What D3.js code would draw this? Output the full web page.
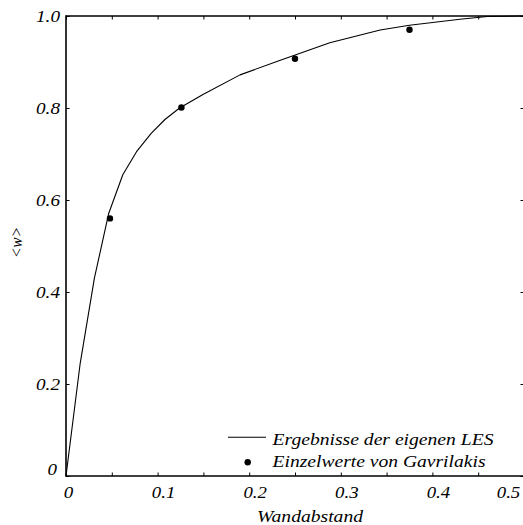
<!DOCTYPE html>
<html>
<head>
<meta charset="utf-8">
<script src="https://cdn.jsdelivr.net/npm/d3@7"></script>
<style>
  html, body { margin: 0; padding: 0; background: #fff; overflow: hidden; }
  svg { display: block; }
</style>
</head>
<body>
<svg id="chart" width="523" height="525"></svg>
<script>
// ── Datos ──
// Kurve: Ergebnisse der eigenen LES
const lesX = [0, 0.0155, 0.031, 0.0465, 0.062, 0.077, 0.093, 0.108, 0.124, 0.15, 0.19, 0.234, 0.288, 0.343, 0.375, 0.43, 0.46, 0.5];
const lesW = [0, 0.245, 0.43, 0.57, 0.655, 0.705, 0.745, 0.775, 0.80, 0.83, 0.872, 0.904, 0.942, 0.9696, 0.980, 0.993, 0.999, 1.0];

// Punkte: Einzelwerte von Gavrilakis
const gavX = [0.048, 0.126, 0.25, 0.375];
const gavW = [0.560, 0.801, 0.907, 0.970];

const xTicks = [0, 0.05, 0.1, 0.15, 0.2, 0.25, 0.3, 0.35, 0.4, 0.45, 0.5];
const yTicks = [0, 0.2, 0.4, 0.6, 0.8, 1.0];
const legendLabels = ["Ergebnisse der eigenen LES", "Einzelwerte von Gavrilakis"];

const FONT = "'Liberation Serif', Tinos, 'Times New Roman', Times, 'Nimbus Roman', FreeSerif, 'Noto Serif', 'DejaVu Serif', serif";
const FS = 16;   // Schriftgröße

const svg = d3.select("#chart");

const x = d3.scaleLinear().domain([0, 0.5]).range([66, 524]);
const y = d3.scaleLinear().domain([0, 1]).range([476, 16]);

const fmt = d => d === 0 ? "0" : d3.format(".1f")(d);

// ── Achsen (Ticks nach innen) ──
const gx = svg.append("g").attr("transform", `translate(0,${y(0)})`)
  .call(d3.axisBottom(x).tickValues(xTicks).tickSize(-3.5).tickPadding(6)
    .tickFormat(d => Math.round(d * 100) % 10 === 0 ? fmt(d) : ""));

const gxTop = svg.append("g").attr("transform", `translate(0,${y(1)})`)
  .call(d3.axisTop(x).tickValues(xTicks).tickSize(-3.5).tickFormat(""));

const gy = svg.append("g").attr("transform", `translate(${x(0)},0)`)
  .call(d3.axisLeft(y).tickValues(yTicks).tickSize(-3.5).tickPadding(6).tickFormat(fmt));

const gyRight = svg.append("g").attr("transform", `translate(${x(0.5)},0)`)
  .call(d3.axisRight(y).tickValues(yTicks).tickSize(-3.5).tickFormat(""));

[gx, gxTop, gy, gyRight].forEach(g => {
  g.attr("font-family", null).attr("font-size", null);
  g.select(".domain").remove();
  g.selectAll(".tick line").attr("stroke", "#000").attr("stroke-width", 1);
  g.selectAll(".tick text").attr("fill", "#000");
});

// x-Beschriftungen leicht verschoben wie im Original
gx.selectAll(".tick text")
  .attr("y", 11).attr("dy", "0.71em")
  .attr("dx", d => d === 0 ? 2 : d === 0.5 ? -16 : 5.5);

gy.selectAll(".tick text")
  .attr("x", d => d === 0 ? -9 : -6)
  .attr("dy", "0.35em")
  .attr("transform", d => d === 0 ? "translate(0,-7)" : null);

// ── Rahmen ──
const frame = svg.append("g").attr("stroke", "#000").attr("stroke-width", 1.6).attr("fill", "none");
frame.append("line").attr("x1", x(0)).attr("x2", x(0)).attr("y1", y(0) + 0.8).attr("y2", y(1) - 0.8);
frame.append("line").attr("x1", x(0)).attr("x2", x(0.5)).attr("y1", y(0)).attr("y2", y(0));
frame.append("line").attr("x1", x(0)).attr("x2", x(0.5)).attr("y1", y(1)).attr("y2", y(1));
frame.append("line").attr("x1", x(0.5)).attr("x2", x(0.5)).attr("y1", y(0)).attr("y2", y(1));

// ── Kurve ──
const line = d3.line().x(d => x(d[0])).y(d => y(d[1]));
svg.append("path")
  .datum(d3.zip(lesX, lesW))
  .attr("d", line)
  .attr("fill", "none")
  .attr("stroke", "#000")
  .attr("stroke-width", 1.1)
  .attr("stroke-linejoin", "round");

// ── Punkte ──
svg.append("g").selectAll("circle")
  .data(d3.zip(gavX, gavW)).join("circle")
  .attr("cx", d => x(d[0]))
  .attr("cy", d => y(d[1]))
  .attr("r", 3.2)
  .attr("fill", "#000");

// ── Achsentitel ──
svg.append("text")
  .attr("x", 310).attr("y", 521.5)
  .attr("text-anchor", "middle")
  .attr("data-w", 106)
  .text("Wandabstand");

svg.append("text")
  .attr("transform", `translate(21.5,242.5) rotate(-90)`)
  .attr("text-anchor", "middle")
  .attr("data-w", 31)
  .text("<w>");

// ── Legende ──
const leg = svg.append("g");
leg.append("line")
  .attr("x1", 228).attr("x2", 266).attr("y1", 437.3).attr("y2", 437.3)
  .attr("stroke", "#000").attr("stroke-width", 1.1);
leg.append("circle").attr("cx", 247.7).attr("cy", 462.3).attr("r", 3.2).attr("fill", "#000");
leg.selectAll("text.lab")
  .data(legendLabels).join("text")
  .attr("class", "lab")
  .attr("x", 272.5)
  .attr("y", (d, i) => 445 + i * 21.7)
  .attr("data-w", (d, i) => i === 0 ? 221 : 213)
  .text(d => d);

// Tick-Beschriftungen: Zielbreiten aus dem Original
gx.selectAll(".tick text").attr("data-w", d => d === 0 ? 9.5 : 23.5);
gy.selectAll(".tick text").attr("data-w", d => d === 0 ? 9.5 : 24);

// Schrift setzen und Breite an das Original anpassen
svg.selectAll("text").each(function() {
  const t = d3.select(this)
    .style("font-family", FONT)
    .style("font-style", "italic")
    .style("font-size", FS + "px")
    .attr("fill", "#000");
  const w = +t.attr("data-w");
  if (w && this.getComputedTextLength() > 0)
    t.attr("textLength", w).attr("lengthAdjust", "spacingAndGlyphs");
});
</script>
</body>
</html>
